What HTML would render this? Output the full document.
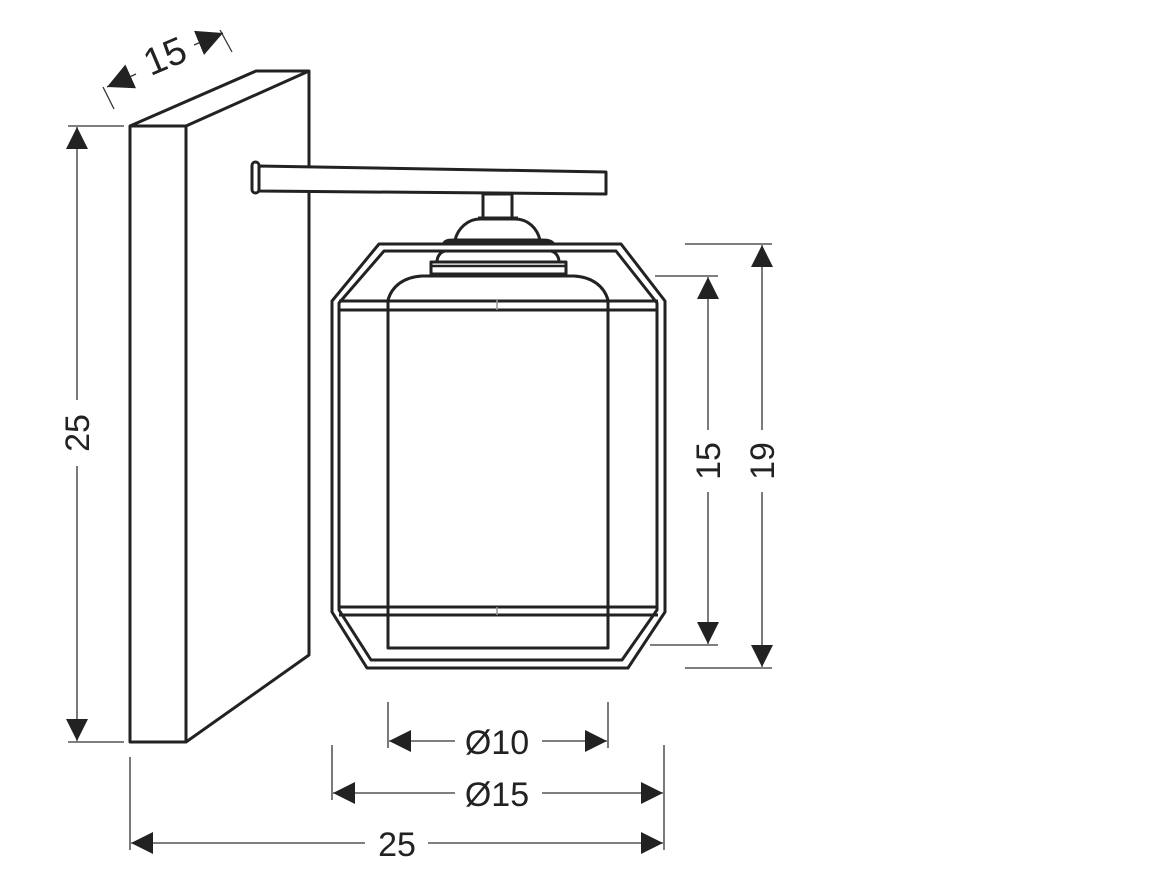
<!DOCTYPE html>
<html><head><style>html,body{margin:0;padding:0;background:#fff}svg{display:block}</style></head>
<body>
<svg width="1165" height="886" viewBox="0 0 1165 886" xmlns="http://www.w3.org/2000/svg" font-family="Liberation Sans, sans-serif">
<defs>
<marker id="a" viewBox="0 0 10 10" refX="10" refY="5" markerWidth="22" markerHeight="22" markerUnits="userSpaceOnUse" orient="auto-start-reverse"><path d="M0,0L10,5L0,10z" fill="#222"/></marker>
<marker id="b" viewBox="0 0 10 10" refX="10" refY="5" markerWidth="26" markerHeight="26" markerUnits="userSpaceOnUse" orient="auto-start-reverse"><path d="M0,0L10,5L0,10z" fill="#222"/></marker>
</defs>
<g fill="none" stroke="#222" stroke-width="3" stroke-linejoin="round">
<path d="M130,126H186V742H130Z"/>
<path d="M130,126L256,71H309L186,126"/>
<path d="M309,71V655L186,742"/>
<path d="M258,166L606,172V194L258,191Z" fill="#fff"/>
<rect x="252" y="162" width="7" height="31" rx="3.5" fill="#fff"/>
<rect x="483" y="194" width="29" height="24" fill="#fff"/>
<path d="M478,218H518"/>
<path d="M455,240C458,228 468,219 480,219H515C528,219 537,228 540,240"/>
<path d="M444,243C446,240 450,240 455,240H540C546,240 550,240 553,243Z"/>
<path d="M437,262C437,257 440,252 445,251H551C556,252 559,257 559,262"/>
<rect x="431" y="262" width="135" height="12"/>
<path d="M431,266H566" stroke-width="2.5"/>
<path d="M379,244H621L665,301V612L628,668H367L332,612V301Z"/>
<path d="M384,251H616L657,303V610L622,660H371L339,610V303Z"/>
<path d="M339,301H658M339,310H658"/>
<path d="M339,607H658M339,615H658"/>
<path d="M388,300C392,286 404,277 422,276H574C592,277 604,286 608,300"/>
<path d="M388,300V648H608V300"/>
</g>
<g stroke="#999" stroke-width="1.5"><path d="M497,300V310M497,607V615"/></g>
<g fill="none" stroke="#333" stroke-width="1.3">
<path d="M68,126H124M68,742H124"/>
<path d="M77,400V127" marker-end="url(#a)"/>
<path d="M77,466V741" marker-end="url(#a)"/>
<path d="M655,276H718M650,645H718"/>
<path d="M708,430V277" marker-end="url(#a)"/>
<path d="M708,492V644" marker-end="url(#a)"/>
<path d="M685,244H772M685,668H772"/>
<path d="M762,430V245" marker-end="url(#a)"/>
<path d="M762,492V667" marker-end="url(#a)"/>
<path d="M388,702V748M608,702V748"/>
<path d="M455,741H389" marker-end="url(#a)"/>
<path d="M542,741H607" marker-end="url(#a)"/>
<path d="M332,745V800M664,745V850"/>
<path d="M455,793H333" marker-end="url(#a)"/>
<path d="M542,793H663" marker-end="url(#a)"/>
<path d="M130,757V850"/>
<path d="M365,843H131" marker-end="url(#a)"/>
<path d="M428,843H663" marker-end="url(#a)"/>
<path d="M103,87L114,109M220,30L232,52"/>
<path d="M136,74L107,87" marker-end="url(#b)"/>
<path d="M194,45L223,33" marker-end="url(#b)"/>
</g>
<g fill="#222" font-size="34" text-anchor="middle">
<text x="497" y="754">Ø10</text>
<text x="497" y="806">Ø15</text>
<text x="397" y="856">25</text>
<text transform="translate(89,433) rotate(-90)">25</text>
<text transform="translate(720,461) rotate(-90)">15</text>
<text transform="translate(774,461) rotate(-90)">19</text>
<text transform="translate(170,68) rotate(-23)" font-size="38">15</text>
</g>
</svg>
</body></html>
